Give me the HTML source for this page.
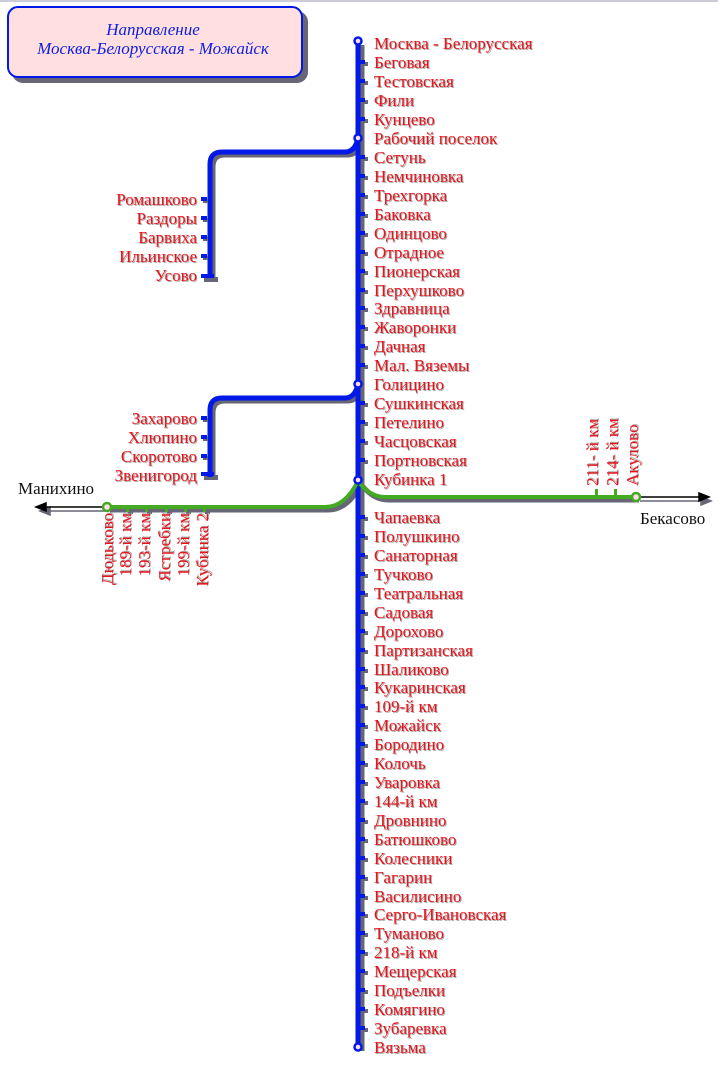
<!DOCTYPE html>
<html><head><meta charset="utf-8"><style>
html,body{margin:0;padding:0;background:#fff;}
svg{display:block;}
.s{font-family:"Liberation Serif",serif;font-size:17px;fill:#e8141c;text-shadow:1px 1px 0 #aaa;}
.b{font-family:"Liberation Serif",serif;font-size:17px;fill:#111;}
</style></head><body>
<svg width="718" height="1070" viewBox="0 0 718 1070" xmlns="http://www.w3.org/2000/svg">
<defs>
<g id="tk"><rect x="363" y="0" width="5" height="4" fill="#666677"/><rect x="360" y="-2" width="5" height="4" fill="#0018e8"/></g>
<g id="tl"><rect x="203" y="0" width="5" height="4" fill="#666677"/><rect x="201" y="-2" width="6" height="4" fill="#0018e8"/></g>
</defs>
<line x1="0" y1="1" x2="718" y2="1" stroke="#ccccd8" stroke-width="2"/>
<rect x="12" y="11" width="296" height="72" rx="11" fill="#666677"/>
<rect x="8" y="7" width="294" height="70" rx="10" fill="#ffdfe0" stroke="#0018e8" stroke-width="2"/>
<text x="153" y="35" text-anchor="middle" font-family="Liberation Serif,serif" font-style="italic" font-size="17" fill="#1020e0">Направление</text>
<text x="153" y="54" text-anchor="middle" font-family="Liberation Serif,serif" font-style="italic" font-size="17" fill="#1020e0">Москва-Белорусская - Можайск</text>

<g fill="none" stroke="#666677" stroke-width="5">
<line x1="362" y1="45" x2="362" y2="1051"/>
<path d="M361,141 Q358,155 348,155 L225,155 Q213,155 213,167 L213,280"/>
<path d="M361,387 Q358,401 348,401 L225,401 Q213,401 213,413 L213,480"/>
<path d="M361,484 Q348,510 328,510 L110,510"/>
<path d="M361,484 Q373,500 388,500 L639,500"/>
</g>
<rect x="204" y="277" width="14" height="5" fill="#666677"/>
<rect x="204" y="475" width="14" height="5" fill="#666677"/>
<g stroke="#666677" stroke-width="1.5" fill="#666677"><line x1="44" y1="511" x2="107" y2="511"/><polygon points="40,511 50,507 50,515"/>
<line x1="640" y1="501" x2="705" y2="501"/><polygon points="711,501 701,497 701,505"/></g>
<g stroke="#000" stroke-width="1.5" fill="#000"><line x1="42" y1="507" x2="107" y2="507"/><polygon points="36,507 46,503 46,511"/>
<line x1="640" y1="497" x2="703" y2="497"/><polygon points="709,497 699,493 699,501"/></g>
<text class="b" x="18" y="494">Манихино</text>
<text class="b" x="640" y="524">Бекасово</text>

<g fill="none" stroke="#0018e8" stroke-width="5">
<line x1="358" y1="41" x2="358" y2="1047"/>
<path d="M358,138 Q355,152 345,152 L222,152 Q210,152 210,164 L210,277"/>
<path d="M358,384 Q355,398 345,398 L222,398 Q210,398 210,410 L210,477"/>
</g>
<rect x="201" y="274" width="13" height="4" fill="#0018e8"/>
<rect x="201" y="472" width="13" height="4" fill="#0018e8"/>
<g fill="none" stroke="#44aa22" stroke-width="4">
<path d="M358,481 Q345,507 325,507 L107,507"/>
<path d="M358,481 Q370,497 385,497 L636,497"/>
</g>
<g fill="#666677"><rect x="128" y="510" width="5" height="4"/><rect x="147" y="510" width="5" height="4"/><rect x="167" y="510" width="5" height="4"/><rect x="186" y="510" width="5" height="4"/><rect x="205" y="510" width="5" height="4"/></g>
<g fill="#44aa22"><rect x="126" y="507" width="3" height="5"/><rect x="145" y="507" width="3" height="5"/><rect x="165" y="507" width="3" height="5"/><rect x="184" y="507" width="3" height="5"/><rect x="203" y="507" width="3" height="5"/>
<rect x="595" y="489" width="3" height="8"/><rect x="614" y="489" width="3" height="8"/></g>

<use href="#tk" y="62"/><use href="#tk" y="81"/><use href="#tk" y="100"/><use href="#tk" y="119"/>
<use href="#tk" y="157"/><use href="#tk" y="176"/><use href="#tk" y="195"/><use href="#tk" y="214"/><use href="#tk" y="233"/><use href="#tk" y="252"/><use href="#tk" y="271"/><use href="#tk" y="290"/><use href="#tk" y="308"/><use href="#tk" y="327"/><use href="#tk" y="346"/><use href="#tk" y="365"/>
<use href="#tk" y="403"/><use href="#tk" y="422"/><use href="#tk" y="441"/><use href="#tk" y="460"/>
<use href="#tk" y="517"/><use href="#tk" y="536"/><use href="#tk" y="555"/><use href="#tk" y="574"/><use href="#tk" y="593"/><use href="#tk" y="612"/><use href="#tk" y="631"/><use href="#tk" y="650"/><use href="#tk" y="669"/><use href="#tk" y="687"/><use href="#tk" y="706"/><use href="#tk" y="725"/><use href="#tk" y="744"/><use href="#tk" y="763"/><use href="#tk" y="782"/><use href="#tk" y="801"/><use href="#tk" y="820"/><use href="#tk" y="839"/><use href="#tk" y="858"/><use href="#tk" y="877"/><use href="#tk" y="896"/><use href="#tk" y="914"/><use href="#tk" y="933"/><use href="#tk" y="952"/><use href="#tk" y="971"/><use href="#tk" y="990"/><use href="#tk" y="1009"/><use href="#tk" y="1028"/>
<use href="#tl" y="199"/><use href="#tl" y="218"/><use href="#tl" y="237"/><use href="#tl" y="256"/>
<use href="#tl" y="418"/><use href="#tl" y="437"/><use href="#tl" y="456"/>
<g fill="#ffe0e8" stroke="#0018e8" stroke-width="2.5">
<circle cx="358" cy="41" r="3.5"/><circle cx="358" cy="138" r="3.5"/><circle cx="358" cy="384" r="3.5"/><circle cx="358" cy="480" r="3.5"/><circle cx="358" cy="1047" r="3.5"/>
</g>
<g fill="#ffe0e8" stroke="#44aa22" stroke-width="2.5"><circle cx="107" cy="507" r="4"/><circle cx="636" cy="497" r="4"/></g>

<g class="s">
<text x="374" y="49">Москва - Белорусская</text>
<text x="374" y="68">Беговая</text>
<text x="374" y="87">Тестовская</text>
<text x="374" y="106">Фили</text>
<text x="374" y="125">Кунцево</text>
<text x="374" y="144">Рабочий поселок</text>
<text x="374" y="163">Сетунь</text>
<text x="374" y="182">Немчиновка</text>
<text x="374" y="201">Трехгорка</text>
<text x="374" y="220">Баковка</text>
<text x="374" y="239">Одинцово</text>
<text x="374" y="258">Отрадное</text>
<text x="374" y="277">Пионерская</text>
<text x="374" y="296">Перхушково</text>
<text x="374" y="314">Здравница</text>
<text x="374" y="333">Жаворонки</text>
<text x="374" y="352">Дачная</text>
<text x="374" y="371">Мал. Вяземы</text>
<text x="374" y="390">Голицино</text>
<text x="374" y="409">Сушкинская</text>
<text x="374" y="428">Петелино</text>
<text x="374" y="447">Часцовская</text>
<text x="374" y="466">Портновская</text>
<text x="374" y="485">Кубинка 1</text>
<text x="374" y="523">Чапаевка</text>
<text x="374" y="542">Полушкино</text>
<text x="374" y="561">Санаторная</text>
<text x="374" y="580">Тучково</text>
<text x="374" y="599">Театральная</text>
<text x="374" y="618">Садовая</text>
<text x="374" y="637">Дорохово</text>
<text x="374" y="656">Партизанская</text>
<text x="374" y="675">Шаликово</text>
<text x="374" y="693">Кукаринская</text>
<text x="374" y="712">109-й км</text>
<text x="374" y="731">Можайск</text>
<text x="374" y="750">Бородино</text>
<text x="374" y="769">Колочь</text>
<text x="374" y="788">Уваровка</text>
<text x="374" y="807">144-й км</text>
<text x="374" y="826">Дровнино</text>
<text x="374" y="845">Батюшково</text>
<text x="374" y="864">Колесники</text>
<text x="374" y="883">Гагарин</text>
<text x="374" y="902">Василисино</text>
<text x="374" y="920">Серго-Ивановская</text>
<text x="374" y="939">Туманово</text>
<text x="374" y="958">218-й км</text>
<text x="374" y="977">Мещерская</text>
<text x="374" y="996">Подъелки</text>
<text x="374" y="1015">Комягино</text>
<text x="374" y="1034">Зубаревка</text>
<text x="374" y="1053">Вязьма</text>
</g>
<g class="s" text-anchor="end">
<text x="197" y="205">Ромашково</text>
<text x="197" y="224">Раздоры</text>
<text x="197" y="243">Барвиха</text>
<text x="197" y="262">Ильинское</text>
<text x="197" y="281">Усово</text>
<text x="197" y="424">Захарово</text>
<text x="197" y="443">Хлюпино</text>
<text x="197" y="462">Скоротово</text>
<text x="197" y="481">Звенигород</text>
</g>
<g class="s" text-anchor="end">
<text transform="translate(113,513) rotate(-90)">Дюдьково</text>
<text transform="translate(131,513) rotate(-90)">189-й км</text>
<text transform="translate(150,513) rotate(-90)">193-й км</text>
<text transform="translate(170,513) rotate(-90)">Ястребки</text>
<text transform="translate(189,513) rotate(-90)">199-й км</text>
<text transform="translate(208,513) rotate(-90)">Кубинка 2</text>
</g>
<g class="s" text-anchor="start">
<text transform="translate(598,486) rotate(-90)">211- й км</text>
<text transform="translate(618,486) rotate(-90)">214- й км</text>
<text transform="translate(638,486) rotate(-90)">Акулово</text>
</g>
</svg>
</body></html>
